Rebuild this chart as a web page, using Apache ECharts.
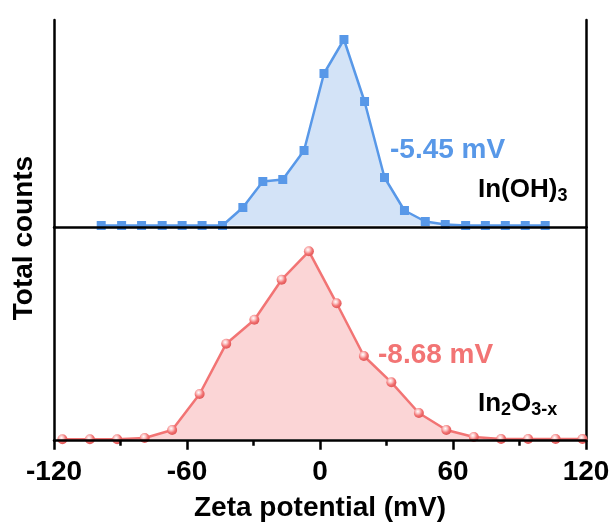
<!DOCTYPE html>
<html lang="en" style="height: 100%">
<head>
  <meta charset="utf-8">
</head>
<body style="height: 100%; margin: 0">
  <div id="container" style="width: 614px; height: 523px"></div>

  <script type="text/javascript" src="https://fastly.jsdelivr.net/npm/echarts@6/dist/echarts.min.js"></script>
  <script type="text/javascript">
    // In(OH)3 distribution (top panel)
    var ohPotential = [-98.7, -89.5, -80.5, -71.2, -62.2, -53.2, -44.0, -34.8, -25.8, -16.8, -7.2, 1.8,
      10.8, 20.1, 29.1, 38.1, 47.5, 56.5, 65.7, 74.6, 83.6, 92.6, 101.6];
    var ohCounts = [0, 0, 0, 0, 0, 0, 0, 18, 44, 46, 75, 152, 186, 124, 48, 15, 4, 1, 0, 0, 0, 0, 0];

    // In2O3-x distribution (bottom panel)
    var oxPotential = [-116.2, -103.8, -91.5, -79.1, -66.7, -54.3, -42.3, -29.6, -17.3, -5.0, 7.5, 19.8,
      32.2, 44.6, 57.0, 69.4, 81.7, 93.9, 106.3, 118.4];
    var oxCounts = [0, 0, 0, 1.3, 9.3, 45.3, 95.6, 119.6, 159.6, 188, 136, 83.3, 57, 26.3, 9.3, 2.3,
      0.3, 0.3, 0.3, 0.3];

    var xTicks = [-120, -60, 0, 60, 120];

    var font = "'Liberation Sans', Arial, sans-serif";
    var blue = '#5898E8';
    var red = '#F27474';

    function pairs(xs, ys) {
      return xs.map(function (x, i) { return [x, ys[i]]; });
    }

    var dom = document.getElementById('container');
    var myChart = echarts.init(dom, null, { renderer: 'canvas' });

    var frameLine = { show: true, onZero: false, lineStyle: { color: '#000', width: 2.5 } };

    function yAxis(grid, pos, min, max) {
      return {
        type: 'value', gridIndex: grid, position: pos, min: min, max: max,
        axisLine: frameLine, axisTick: { show: false }, axisLabel: { show: false },
        splitLine: { show: false }
      };
    }

    // subscript styles for the sample labels
    var formula = {
      a: { fontSize: 26, fontWeight: 'bold', fontFamily: font, fill: '#000', lineHeight: 30 },
      b: { fontSize: 18, fontWeight: 'bold', fontFamily: font, fill: '#000', lineHeight: 7, verticalAlign: 'bottom' }
    };

    var option = {
      animation: false,
      backgroundColor: '#fff',
      grid: [
        { left: 54, right: 28, top: 20, height: 207.3, outerBoundsMode: 'none', containLabel: false },
        { left: 54, right: 28, top: 227.3, height: 213.4, outerBoundsMode: 'none', containLabel: false }
      ],
      xAxis: [
        {
          type: 'value', gridIndex: 0, min: -120, max: 120, interval: 60, z: 5,
          axisLine: { show: true, onZero: false, lineStyle: { color: '#000', width: 2.5 } },
          axisTick: { show: false }, axisLabel: { show: false }, splitLine: { show: false }
        },
        {
          type: 'value', gridIndex: 1, min: -120, max: 120, interval: 60, z: 5,
          axisLine: { show: true, onZero: false, lineStyle: { color: '#000', width: 2.5 } },
          axisTick: { show: true, length: 9, lineStyle: { color: '#000', width: 2.5 } },
          minorTick: { show: true, splitNumber: 2, length: 5, lineStyle: { color: '#000', width: 2.5 } },
          axisLabel: {
            margin: 18, color: '#000', fontSize: 28, fontWeight: 'bold', fontFamily: font,
            showMinLabel: true, showMaxLabel: true,
            customValues: xTicks
          },
          splitLine: { show: false },
          name: 'Zeta potential (mV)', nameLocation: 'middle', nameGap: 54,
          nameTextStyle: { color: '#000', fontSize: 28, fontWeight: 'bold', fontFamily: font }
        }
      ],
      yAxis: [
        yAxis(0, 'left', -1.8, 205.5),
        yAxis(0, 'right', -1.8, 205.5),
        yAxis(1, 'left', -1.4, 212),
        yAxis(1, 'right', -1.4, 212)
      ],
      series: [
        {
          type: 'line', xAxisIndex: 0, yAxisIndex: 0,
          data: pairs(ohPotential, ohCounts),
          symbol: 'rect', symbolSize: 9,
          itemStyle: { color: blue },
          lineStyle: { color: blue, width: 2.5 },
          areaStyle: { color: '#D3E3F7', opacity: 1 }
        },
        {
          type: 'line', xAxisIndex: 1, yAxisIndex: 2,
          data: pairs(oxPotential, oxCounts),
          symbol: 'circle', symbolSize: 10,
          itemStyle: {
            color: new echarts.graphic.RadialGradient(0.4, 0.35, 0.6, [
              { offset: 0, color: '#ffffff' },
              { offset: 0.35, color: '#FBC4C4' },
              { offset: 0.7, color: red },
              { offset: 1, color: '#E45C5C' }
            ])
          },
          lineStyle: { color: red, width: 2.5 },
          areaStyle: { color: '#FBD5D6', opacity: 1 }
        }
      ],
      graphic: [
        {
          type: 'text', x: 24, y: 238, rotation: Math.PI / 2,
          style: {
            text: 'Total counts', fill: '#000', align: 'center', verticalAlign: 'middle',
            font: 'bold 28px ' + font
          }
        },
        {
          type: 'text', x: 390, y: 150,
          style: {
            text: '-5.45 mV', fill: blue, align: 'left', verticalAlign: 'middle',
            font: 'bold 28px ' + font
          }
        },
        {
          type: 'text', x: 378, y: 355,
          style: {
            text: '-8.68 mV', fill: red, align: 'left', verticalAlign: 'middle',
            font: 'bold 28px ' + font
          }
        },
        {
          type: 'text', x: 478, y: 190,
          style: { text: '{a|In(OH)}{b|3}', align: 'left', verticalAlign: 'middle', rich: formula }
        },
        {
          type: 'text', x: 478, y: 404,
          style: { text: '{a|In}{b|2}{a|O}{b|3-x}', align: 'left', verticalAlign: 'middle', rich: formula }
        }
      ]
    };

    myChart.setOption(option);
    window.addEventListener('resize', myChart.resize);
  </script>
</body>
</html>
